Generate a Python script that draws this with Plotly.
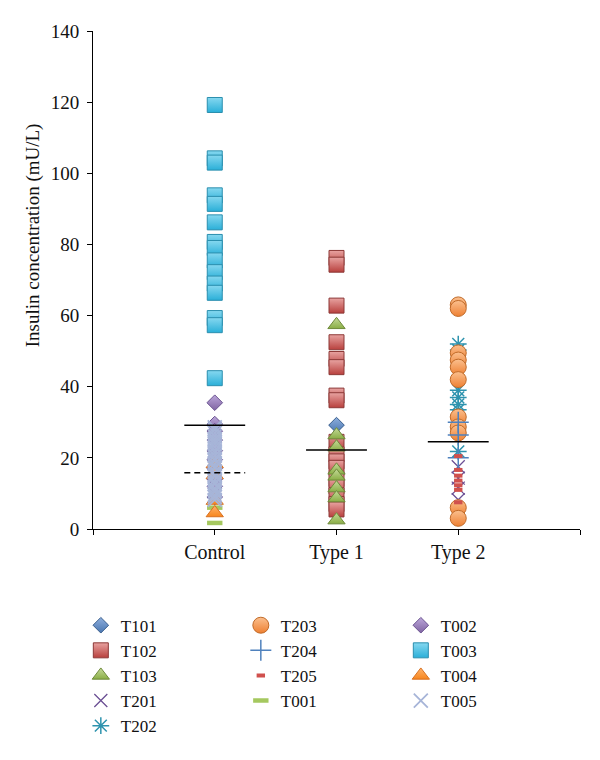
import plotly.graph_objects as go

categories = ["Control", "Type 1", "Type 2"]

T101 = [29.2]
T102 = [76.2, 74.3, 62.8, 52.5, 47.8, 45.5, 37.5, 36.2, 24.5, 21.0, 19.0, 17.2, 14.0, 12.0, 9.5, 7.0, 5.5]
T103 = [57.4, 26.4, 23.0, 16.5, 14.8, 11.5, 8.7, 2.5]
T201 = [17.5, 14.3, 11.5, 8.2]
T202 = [52.0, 50.3, 39.0, 37.0, 35.0, 33.5, 21.8]
T203 = [63.0, 62.0, 49.5, 47.5, 45.5, 42.0, 31.5, 28.7, 27.0, 6.0, 3.0]
T204 = [30.0, 26.4, 20.0]
T205 = [20.5, 16.6, 15.0, 13.6, 12.3, 11.0, 7.5]
T001 = [6.0, 1.7]
T002 = [35.5, 29.5, 27.5, 25.0, 22.0, 19.5, 17.0, 14.0, 12.0, 9.0]
T003 = [119.2, 104.2, 103.0, 93.8, 91.4, 86.2, 80.7, 79.0, 75.5, 72.2, 69.0, 66.4, 59.3, 57.3, 42.4]
T004 = [18.3, 15.2, 8.0, 4.5]
T005 = [28.6, 27.9, 27.0, 26.1, 25.3, 24.6, 23.9, 23.0, 22.1, 21.5, 20.6, 19.8, 19.2, 18.3,
        17.6, 17.1, 16.0, 15.3, 14.8, 13.9, 13.1, 12.6, 11.5, 10.9, 10.4, 9.6, 9.0, 8.2]

series_names = ["T101", "T102", "T103", "T201", "T202", "T203", "T204", "T205",
                "T001", "T002", "T003", "T004", "T005"]
series_values = [T101, T102, T103, T201, T202, T203, T204, T205, T001, T002, T003, T004, T005]
series_category = ["Type 1", "Type 1", "Type 1", "Type 2", "Type 2", "Type 2", "Type 2", "Type 2",
                   "Control", "Control", "Control", "Control", "Control"]

mean_values = [29.2, 22.2, 24.5]
control_dashed = 15.8

legend_order = ["T101", "T203", "T002", "T102", "T204", "T003", "T103", "T205", "T004",
                "T201", "T001", "T005", "T202"]

styles = {
    "T101": dict(symbol="diamond", size=12, color="#8DAEDD", grad="#4A76B0", line=dict(color="#3A5F8E", width=1)),
    "T102": dict(symbol="square", size=15, color="#E8A3A1", grad="#B8403D", line=dict(color="#8C3836", width=1)),
    "T103": dict(symbol="triangle-up", size=15, color="#C5DA9A", grad="#8AAE45", line=dict(color="#6E8A3A", width=1)),
    "T201": dict(symbol="x-thin-open", size=13, color="#6B4F94", grad=None, line=dict(color="#6B4F94", width=1.3)),
    "T202": dict(symbol="asterisk-open", size=14, color="#2E93AE", grad=None, line=dict(color="#2E93AE", width=1.5)),
    "T203": dict(symbol="circle", size=16, color="#FBC08F", grad="#EE8032", line=dict(color="#C06A28", width=1)),
    "T204": dict(symbol="cross-thin-open", size=15, color="#4F81BD", grad=None, line=dict(color="#4F81BD", width=1.5)),
    "T205": dict(symbol="line-ew", size=6, color="#D0504D", grad=None, line=dict(color="#D0504D", width=4)),
    "T001": dict(symbol="line-ew", size=11, color="#A5C85F", grad=None, line=dict(color="#A5C85F", width=4.5)),
    "T002": dict(symbol="diamond", size=12, color="#BBA6DA", grad="#8064A2", line=dict(color="#6A5290", width=1)),
    "T003": dict(symbol="square", size=15, color="#86D8F0", grad="#2AAFD8", line=dict(color="#2A8EAE", width=1)),
    "T004": dict(symbol="triangle-up", size=15, color="#FFB36B", grad="#F7861E", line=dict(color="#D87020", width=1)),
    "T005": dict(symbol="x-thin-open", size=14, color="#A7B5D8", grad=None, line=dict(color="#A7B5D8", width=1.8)),
}

fig = go.Figure()

for name, vals, cat in zip(series_names, series_values, series_category):
    st = styles[name]
    xpos = categories.index(cat) + 1
    marker = dict(symbol=st["symbol"], size=st["size"], color=st["color"], line=st["line"])
    if st["grad"]:
        marker["gradient"] = dict(type="vertical", color=st["grad"])
    fig.add_trace(go.Scatter(
        x=[xpos] * len(vals), y=vals, mode="markers", name=name,
        marker=marker, legendrank=legend_order.index(name) + 1,
        hoverinfo="y+name",
    ))

half = 0.25
for i, m in enumerate(mean_values):
    c = i + 1
    fig.add_trace(go.Scatter(x=[c - half, c + half], y=[m, m], mode="lines",
                             line=dict(color="black", width=1.5), showlegend=False, hoverinfo="skip"))
fig.add_trace(go.Scatter(x=[1 - half, 1 + half], y=[control_dashed, control_dashed], mode="lines",
                         line=dict(color="black", width=1.5, dash="6px,4px"), showlegend=False,
                         hoverinfo="skip"))

font_family = "Liberation Serif, Times New Roman, serif"

fig.update_layout(
    width=600, height=760,
    margin=dict(l=85, r=28, t=23, b=239, autoexpand=False),
    paper_bgcolor="white", plot_bgcolor="white",
    font=dict(family=font_family, size=18, color="#111111"),
    showlegend=True,
    legend=dict(
        orientation="h", x=-0.025, y=-0.158, xanchor="left", yanchor="top",
        entrywidth=115, entrywidthmode="pixels",
        font=dict(family=font_family, size=17, color="#111111"),
        bgcolor="rgba(0,0,0,0)", itemsizing="trace",
    ),
    xaxis=dict(
        range=[0, 4], tickmode="array", tickvals=[0, 1, 2, 3, 4],
        ticktext=[""] + categories + [""],
        showline=True, linecolor="black", linewidth=1,
        ticks="outside", ticklen=5, tickcolor="black",
        showgrid=False, zeroline=False,
        tickfont=dict(size=20),
    ),
    yaxis=dict(
        range=[0, 140], tickmode="linear", tick0=0, dtick=20,
        showline=True, linecolor="black", linewidth=1,
        ticks="outside", ticklen=5, tickcolor="black",
        showgrid=False, zeroline=False, ticklabelstandoff=4,
        tickfont=dict(size=19),
    ),
    annotations=[dict(
        text="Insulin concentration (mU/L)", textangle=-90,
        xref="paper", yref="paper", x=-0.123, y=0.59,
        xanchor="center", yanchor="middle", showarrow=False,
        font=dict(family=font_family, size=19, color="#111111"),
    )],
)

fig.write_html("out.html")
